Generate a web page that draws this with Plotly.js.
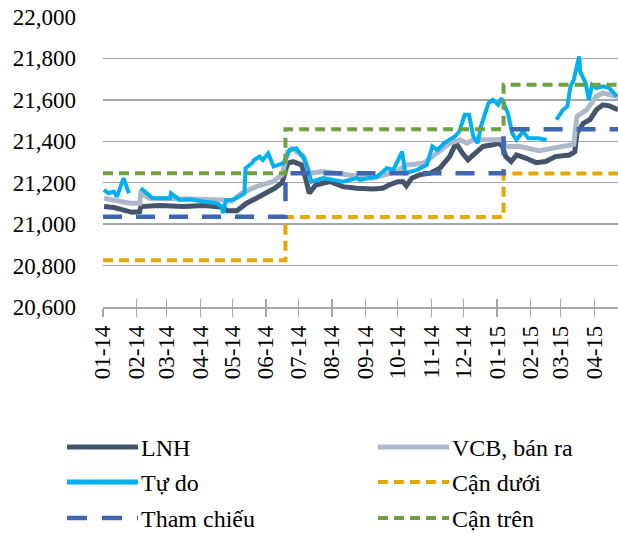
<!DOCTYPE html>
<html>
<head>
<meta charset="utf-8">
<script src="https://cdn.plot.ly/plotly-3.0.1.min.js"></script>
<style>
html,body{margin:0;padding:0;background:#fff;}
#chart text {font-family:'Liberation Serif', serif !important;}
</style>
</head>
<body>
<div id="chart" style="width:618px;height:533px;"></div>
<script>
// ---- Data ----
const lnhDates = ['2014-01-02','2014-01-11','2014-01-28','2014-02-04','2014-02-05','2014-02-22','2014-03-17','2014-04-05','2014-04-22','2014-04-26','2014-05-05','2014-05-14','2014-05-23','2014-06-01','2014-06-09','2014-06-16','2014-06-21','2014-06-26','2014-07-04','2014-07-08','2014-07-11','2014-07-17','2014-07-30','2014-08-11','2014-08-24','2014-09-08','2014-09-17','2014-09-23','2014-10-01','2014-10-06','2014-10-09','2014-10-14','2014-10-21','2014-10-31','2014-11-09','2014-11-18','2014-11-24','2014-11-30','2014-12-05','2014-12-10','2014-12-19','2014-12-28','2015-01-03','2015-01-06','2015-01-09','2015-01-14','2015-01-19','2015-01-28','2015-02-06','2015-02-15','2015-02-24','2015-03-09','2015-03-14','2015-03-16','2015-03-22','2015-03-28','2015-04-03','2015-04-09','2015-04-15','2015-04-23'];
const lnhValues = [21085,21080,21057,21060,21085,21090,21085,21090,21082,21065,21065,21101,21125,21149,21173,21201,21294,21302,21286,21214,21149,21189,21206,21181,21173,21170,21173,21189,21205,21205,21185,21222,21238,21246,21270,21326,21391,21342,21310,21334,21375,21383,21391,21375,21326,21302,21334,21318,21297,21302,21326,21334,21350,21439,21488,21504,21552,21576,21571,21552];

const vcbDates = ['2014-01-02','2014-01-11','2014-01-26','2014-02-04','2014-02-05','2014-02-13','2014-03-13','2014-04-01','2014-04-22','2014-04-30','2014-05-09','2014-05-23','2014-06-07','2014-06-16','2014-06-21','2014-06-25','2014-07-06','2014-07-11','2014-07-24','2014-08-15','2014-09-08','2014-09-30','2014-10-09','2014-10-25','2014-11-07','2014-11-18','2014-11-28','2014-12-04','2014-12-10','2014-12-26','2015-01-06','2015-01-09','2015-01-22','2015-02-09','2015-02-24','2015-03-13','2015-03-16','2015-03-25','2015-04-03','2015-04-09','2015-04-23'];
const vcbValues = [21125,21117,21101,21101,21149,21125,21125,21120,21117,21110,21149,21181,21205,21238,21350,21366,21326,21246,21254,21238,21222,21254,21286,21294,21350,21391,21407,21391,21407,21410,21407,21375,21375,21355,21370,21385,21520,21552,21616,21633,21616];

const tudoDates = ['2014-01-02','2014-01-06','2014-01-11','2014-01-14','2014-01-20','2014-01-23','2014-01-25','2014-01-29','2014-02-05','2014-02-10','2014-02-16','2014-03-04','2014-03-05','2014-03-13','2014-03-22','2014-04-04','2014-04-16','2014-04-21','2014-04-22','2014-04-25','2014-05-01','2014-05-07','2014-05-12','2014-05-13','2014-05-19','2014-05-21','2014-05-26','2014-05-29','2014-06-03','2014-06-08','2014-06-12','2014-06-17','2014-06-20','2014-06-23','2014-06-29','2014-07-06','2014-07-10','2014-07-13','2014-07-24','2014-08-11','2014-08-24','2014-08-27','2014-09-12','2014-09-21','2014-09-27','2014-10-05','2014-10-08','2014-10-19','2014-10-28','2014-11-02','2014-11-07','2014-11-13','2014-11-23','2014-11-27','2014-12-02','2014-12-06','2014-12-10','2014-12-14','2014-12-17','2014-12-24','2014-12-28','2015-01-02','2015-01-05','2015-01-11','2015-01-15','2015-01-19','2015-01-25','2015-01-30','2015-02-08','2015-02-16','2015-02-20','2015-02-25','2015-03-03','2015-03-07','2015-03-10','2015-03-13','2015-03-18','2015-03-19','2015-03-24','2015-03-27','2015-03-30','2015-04-03','2015-04-09','2015-04-15','2015-04-22'];
const tudoValues = [21165,21149,21157,21133,21222,21181,21149,null,21173,21149,21125,21125,21149,21117,21120,21109,21101,21085,21053,21117,21117,21133,21149,21270,21294,21310,21326,21310,21342,21278,21286,21294,21326,21358,21366,21318,21262,21205,21222,21205,21222,21214,21230,21270,21262,21350,21246,21262,21286,21375,21358,21391,21423,21447,21528,21528,21423,21391,21471,21584,21600,21576,21608,21536,21439,21407,21447,21415,21415,21407,null,21504,21552,21568,21665,21697,21810,21737,21681,21600,21673,21657,21665,21657,21616];

const bandDates = ['2014-01-01','2014-06-19','2015-01-07','2015-04-25'];
const thamChieu = [21036,21246,21458,21458];
const canDuoi   = [20826,21034,21244,21244];
const canTren   = [21246,21458,21673,21673];

const tickDates = ['2014-01-01','2014-02-01','2014-03-01','2014-04-01','2014-05-01','2014-06-01','2014-07-01','2014-08-01','2014-09-01','2014-10-01','2014-11-01','2014-12-01','2015-01-01','2015-02-01','2015-03-01','2015-04-01'];
const tickText  = ['01-14','02-14','03-14','04-14','05-14','06-14','07-14','08-14','09-14','10-14','11-14','12-14','01-15','02-15','03-15','04-15'];

const yTicks = [20600,20800,21000,21200,21400,21600,21800,22000];

const names = ['LNH','VCB, bán ra','Tự do','Cận dưới','Tham chiếu','Cận trên'];

// ---- Styles ----
const C = {lnh:'#44546a', vcb:'#adb9ca', tudo:'#00b0f0', duoi:'#e6a800', tham:'#3f66b0', tren:'#6ea140'};
const FONT = 'Liberation Serif';
const xRange = ['2014-01-01','2015-04-23'];

const traces = [
  {x:lnhDates, y:lnhValues, name:names[0], mode:'lines', line:{color:C.lnh, width:5}},
  {x:vcbDates, y:vcbValues, name:names[1], mode:'lines', line:{color:C.vcb, width:5}},
  {x:tudoDates, y:tudoValues, name:names[2], mode:'lines', connectgaps:false, line:{color:C.tudo, width:4}},
  {x:bandDates, y:canDuoi, name:names[3], mode:'lines', line:{color:C.duoi, width:4, shape:'hv', dash:'10px,6px'}},
  {x:bandDates, y:thamChieu, name:names[4], mode:'lines', line:{color:C.tham, width:4.5, shape:'hv', dash:'19px,14px'}},
  {x:bandDates, y:canTren, name:names[5], mode:'lines', line:{color:C.tren, width:4, shape:'hv', dash:'10px,6px'}}
];

// custom legend (pixel -> paper)
const L=103, R=618, T=17, B=307;
const px = v => (v-L)/(R-L);
const py = v => (B-v)/(B-T);
const legendItems = [
  {name:names[0], col:0, row:0, color:C.lnh, width:5, dash:'solid'},
  {name:names[1], col:1, row:0, color:C.vcb, width:5, dash:'solid'},
  {name:names[2], col:0, row:1, color:C.tudo, width:5, dash:'solid'},
  {name:names[3], col:1, row:1, color:C.duoi, width:4, dash:'10px,6px'},
  {name:names[4], col:0, row:2, color:C.tham, width:4.5, dash:'20px,15px'},
  {name:names[5], col:1, row:2, color:C.tren, width:4, dash:'10px,6px'}
];
const colX = [67, 378];
const rowY = [447, 482, 518];
const shapes = [], annotations = [];
legendItems.forEach(it => {
  const x0 = colX[it.col], y = rowY[it.row];
  shapes.push({type:'line', xref:'paper', yref:'paper', x0:px(x0), x1:px(x0+71), y0:py(y), y1:py(y),
    line:{color:it.color, width:it.width, dash:it.dash}});
  annotations.push({xref:'paper', yref:'paper', x:px(x0+72), y:py(y+1), xanchor:'left', yanchor:'middle',
    text:it.name, showarrow:false, font:{family:FONT, size:24, color:'#000'}});
});

const layout = {
  width:618, height:533,
  margin:{l:L, r:0, t:T, b:533-B},
  paper_bgcolor:'#fff', plot_bgcolor:'#fff',
  showlegend:false,
  font:{family:FONT, size:23},
  xaxis:{type:'date', range:xRange, tickvals:tickDates, ticktext:tickText, tickangle:-90,
    ticks:'outside', ticklen:8, tickcolor:'#a6a6a6', tickwidth:1.3,
    showline:true, linecolor:'#a6a6a6', linewidth:1.5, showgrid:false, zeroline:false,
    tickfont:{family:FONT, size:23, color:'#000'}},
  xaxis2:{type:'date', range:xRange, tickvals:tickDates, overlaying:'x', anchor:'y', side:'bottom',
    ticks:'inside', ticklen:8, tickcolor:'#a6a6a6', tickwidth:1.3, showticklabels:false,
    showline:false, showgrid:false, zeroline:false},
  yaxis:{range:[20600,22000], tickvals:yTicks, tickformat:',d', showgrid:true, gridcolor:'#a6a6a6', gridwidth:1.3,
    zeroline:false, showline:false, ticks:'', ticklabelstandoff:26,
    tickfont:{family:FONT, size:23, color:'#000'}},
  shapes:shapes,
  annotations:annotations
};

// invisible trace to instantiate xaxis2
traces.push({x:[xRange[0]], y:[null], xaxis:'x2', yaxis:'y', mode:'lines', showlegend:false, hoverinfo:'skip'});

Plotly.newPlot('chart', traces, layout, {staticPlot:true, displayModeBar:false});
</script>
</body>
</html>
